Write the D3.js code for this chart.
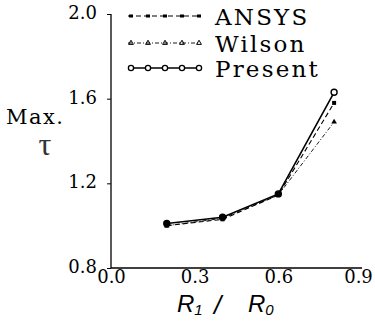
<!DOCTYPE html>
<html><head><meta charset="utf-8">
<script src="https://cdn.jsdelivr.net/npm/d3@7"></script>
<style>body{margin:0;background:#fff}svg{display:block}</style>
</head><body>
<svg id="c" width="375" height="322"></svg>
<script>
const ratios = [0.2, 0.4, 0.6, 0.8];
const ansys = [1.0, 1.03, 1.145, 1.58];
const wilson = [1.0, 1.035, 1.145, 1.49];
const present = [1.01, 1.04, 1.15, 1.63];
const xTicks = [0.0, 0.3, 0.6, 0.9];
const yTicks = [0.8, 1.2, 1.6, 2.0];
const seriesNames = ["ANSYS", "Wilson", "Present"];

const svg = d3.select("#c");
const L = 111, R = 362, T = 14, B = 268;
const x = d3.scaleLinear().domain([0, 0.9]).range([L, R]);
const y = d3.scaleLinear().domain([0.8, 2.0]).range([B, T]);
const serif = "'DejaVu Serif', serif";

// axes
const yAx = svg.append("g").attr("transform", `translate(${L},0)`)
  .call(d3.axisLeft(y).tickValues(yTicks).tickSize(4).tickFormat(d3.format(".1f")));
yAx.select(".domain").attr("stroke", "#000").attr("stroke-width", 1.3).attr("d", `M0,${T}V${B}`);
yAx.selectAll("line").attr("stroke", "#000");
yAx.selectAll("text").attr("font-family", serif).attr("font-size", 18).attr("fill", "#000")
  .attr("x", -14).attr("dy", "0.25em");

const xAx = svg.append("g").attr("transform", `translate(0,${B})`)
  .call(d3.axisBottom(x).tickValues(xTicks).tickSize(0).tickFormat(d3.format(".1f")));
xAx.select(".domain").attr("stroke", "#000").attr("stroke-width", 1.3).attr("d", `M${L},0H${R}`);
xAx.selectAll("text").attr("font-family", serif).attr("font-size", 18).attr("fill", "#000")
  .attr("y", 2).attr("dy", "0.71em");
xAx.selectAll(".tick").filter(d => d === 0.9).select("text").attr("dx", -4);

// lines
const line = d3.line().x((d, i) => x(ratios[i])).y(d => y(d));
const styles = {
  ANSYS: {data: ansys, dash: "5,3", w: 1.1},
  Wilson: {data: wilson, dash: "4,2,1,2", w: 0.9},
  Present: {data: present, dash: null, w: 1.6}
};
seriesNames.forEach(n => {
  const s = styles[n];
  svg.append("path").datum(s.data).attr("d", line).attr("fill", "none")
    .attr("stroke", "#000").attr("stroke-width", s.w)
    .attr("stroke-dasharray", s.dash);
});
// markers
svg.append("g").selectAll("rect").data(ansys).join("rect")
  .attr("x", (d, i) => x(ratios[i]) - 2).attr("y", d => y(d) - 2).attr("width", 4).attr("height", 4).attr("fill", "#000");
svg.append("g").selectAll("path").data(wilson).join("path")
  .attr("d", d3.symbol(d3.symbolTriangle, 14)).attr("transform", (d, i) => `translate(${x(ratios[i])},${y(d)})`).attr("fill", "#000");
svg.append("g").selectAll("circle").data(present).join("circle")
  .attr("cx", (d, i) => x(ratios[i])).attr("cy", d => y(d)).attr("r", 3)
  .attr("fill", (d, i) => i < 3 ? "#000" : "#fff").attr("stroke", "#000").attr("stroke-width", 1.4);

// legend
const legY = [16, 43, 68];
const lx0 = 128, lx1 = 200;
const mxs = d3.range(5).map(i => lx0 + 3 + i * (lx1 - lx0 - 4) / 4);
seriesNames.forEach((n, k) => {
  const s = styles[n];
  const g = svg.append("g");
  g.append("line").attr("x1", lx0).attr("x2", lx1).attr("y1", legY[k]).attr("y2", legY[k])
    .attr("stroke", "#000").attr("stroke-width", s.w).attr("stroke-dasharray", s.dash);
  mxs.forEach(mx => {
    if (n === "ANSYS") g.append("rect").attr("x", mx - 2).attr("y", legY[k] - 1.5).attr("width", 4).attr("height", 3).attr("fill", "#000");
    else if (n === "Wilson") g.append("path").attr("d", d3.symbol(d3.symbolTriangle, 10)).attr("transform", `translate(${mx},${legY[k]})`).attr("fill", "none").attr("stroke", "#000").attr("stroke-width", 1);
    else g.append("circle").attr("cx", mx).attr("cy", legY[k]).attr("r", 2.6).attr("fill", "#fff").attr("stroke", "#000").attr("stroke-width", 1.3);
  });
  g.append("text").attr("x", 215).attr("y", legY[k] + 9).text(n)
    .attr("font-family", serif).attr("font-size", 23).attr("letter-spacing", 2.2).attr("fill", "#000");
});

// y title
svg.append("text").attr("x", 6).attr("y", 124).text("Max.")
  .attr("font-family", serif).attr("font-size", 21).attr("letter-spacing", 1.5).attr("fill", "#000");
svg.append("text").attr("x", 45).attr("y", 155).attr("text-anchor", "middle").text("τ")
  .attr("font-family", "'Liberation Serif', serif").attr("font-size", 32).attr("fill", "#333");

// x title
const sans = "'Liberation Sans', sans-serif";
const xt = svg.append("text").attr("x", 177).attr("y", 312)
  .attr("font-family", sans).attr("font-style", "italic").attr("font-size", 24).attr("fill", "#000");
xt.append("tspan").text("R");
xt.append("tspan").text("1").attr("font-size", 15).attr("dy", 3);
xt.append("tspan").text("/").attr("x", 214).attr("dy", -1).attr("font-size", 26);
xt.append("tspan").text("R").attr("x", 248).attr("dy", -2);
xt.append("tspan").text("0").attr("font-size", 15).attr("dy", 3);
</script>
</body></html>
